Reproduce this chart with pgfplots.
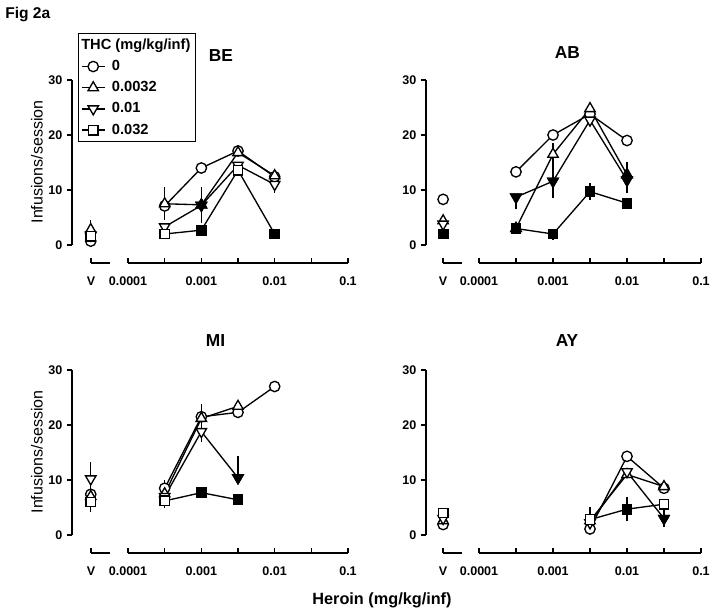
\documentclass[border=0pt]{standalone}
\usepackage{fontspec}
\setmainfont{Liberation Sans}
\usepackage{pgfplots}
\pgfplotsset{compat=1.18}

\pgfplotsset{
  noArrows/.style={axis line style={-},
    every outer x axis line/.append style={-},
    every outer y axis line/.append style={-},
    every inner x axis line/.append style={-},
    every inner y axis line/.append style={-}},
  myBase/.style={scale only axis, clip=false, anchor=south west,
    tick label style={font=\fontsize{9.4}{11}\selectfont\bfseries},
    /pgf/number format/assume math mode=true,
    axis line style={line width=1pt, black},
    major tick style={line width=1pt, black}, major tick length=3.75pt},
  myMain/.style={myBase, height=123.75pt, ymin=0, ymax=30, ytick={0,10,20,30},
    axis y line=left, axis x line=none, tick align=outside,
    unbounded coords=jump, noArrows},
  myLog/.style={myBase, height=10pt, ymin=0, ymax=1, axis x line=bottom, axis y line=none,
    tick align=inside, xmin=1e-4, xmax=0.1,
    xtick={1e-4,1e-3,1e-2,1e-1}, xticklabels={0.0001,0.001,0.01,0.1},
    minor xtick={3.162e-4,3.162e-3,3.162e-2}, minor tick length=3.75pt,
    minor tick style={line width=1pt, black},
    xticklabel style={yshift=-7pt}, noArrows},
  myV/.style={myBase, height=10pt, width=14.25pt, xmin=0, xmax=1, ymin=0, ymax=1,
    axis x line=bottom, axis y line=none, tick align=inside,
    xtick={0}, xticklabels={V}, xticklabel style={yshift=-7pt}, noArrows},
  % series: open markers on lines
  serA/.style={black, line width=1pt, mark=*, mark size=3.9pt,
    mark options={fill=white, solid, line width=1pt}},
  serB/.style={black, line width=1pt, mark=triangle*, mark size=4.5pt,
    mark options={fill=white, solid, line width=1pt}},
  serC/.style={black, line width=1pt, mark=triangle*, mark size=4.5pt,
    mark options={fill=white, solid, rotate=180, line width=1pt}},
  serD/.style={black, line width=1pt, mark=square*, mark size=3.6pt,
    mark options={fill=white, solid, line width=1pt}},
  % filled (significant) points drawn on top
  filB/.style={forget plot, only marks, mark=triangle*, mark size=4.5pt,
    mark options={fill=black, draw=black, line width=1pt}},
  filC/.style={forget plot, only marks, mark=triangle*, mark size=4.5pt,
    mark options={fill=black, draw=black, rotate=180, line width=1pt}},
  filD/.style={forget plot, only marks, mark=square*, mark size=3.6pt,
    mark options={fill=black, draw=black, line width=1pt}},
  errB/.style={forget plot, draw=none, mark=none,
    error bars/y dir=both, error bars/y explicit, error bars/error mark=none,
    error bars/error bar style={draw=black, line width=1pt}},
}

\begin{document}
\begin{tikzpicture}
\useasboundingbox (0,0) rectangle (535.5pt,-460.5pt);

% ---------------- BE ----------------
\begin{axis}[xmode=log, myMain, at={(54pt,-183.75pt)}, width=207pt, xmin=1.72e-5, xmax=0.1,
  legend style={at={(0.0217,1.285)}, anchor=north west, draw=black, line width=0.8pt,
    font=\fontsize{11}{13}\selectfont\bfseries, inner sep=2pt, row sep=2.7pt,
    column sep=3pt},
  legend cell align=left]
\addlegendimage{empty legend}\addlegendentry{\hspace*{-23pt}THC (mg/kg/inf)}
\addplot[errB] coordinates {(3.1e-5,2.8) +- (0,1.7) (3.16e-4,7.5) +- (0,3.0)
  (1e-3,7.3) +- (0,3.3) (1e-2,11.0) +- (0,1.6)};
\addplot[serA] coordinates {(3.1e-5,0.7) (5e-5,nan) (3.16e-4,7.1) (1e-3,14.0) (3.16e-3,17.1) (1e-2,12.4)};
\addlegendentry{0}
\addplot[serB] coordinates {(3.1e-5,2.8) (5e-5,nan) (3.16e-4,7.5) (1e-3,7.3) (3.16e-3,16.8) (1e-2,12.6)};
\addlegendentry{0.0032}
\addplot[serC] coordinates {(3.1e-5,1.8) (5e-5,nan) (3.16e-4,3.3) (1e-3,7.2) (3.16e-3,14.5) (1e-2,11.0)};
\addlegendentry{0.01}
\addplot[serD] coordinates {(3.1e-5,1.6) (5e-5,nan) (3.16e-4,2.0) (1e-3,2.7) (3.16e-3,13.6) (1e-2,2.0)};
\addlegendentry{0.032}
\addplot[filB] coordinates {(1e-3,7.3)};
\addplot[filC] coordinates {(1e-3,7.2)};
\addplot[filD] coordinates {(1e-3,2.7) (1e-2,2.0)};
\end{axis}
\begin{axis}[myV, at={(68.25pt,-197.25pt)}]\end{axis}
\begin{axis}[xmode=log, myLog, at={(96pt,-197.25pt)}, width=165pt]\end{axis}

% ---------------- AB ----------------
\begin{axis}[xmode=log, myMain, at={(319.5pt,-183.75pt)}, width=206.25pt, xmin=1.92e-5, xmax=0.1]
\addplot[errB] coordinates {(3.16e-4,8.7) += (0,0.5) -= (0,2.2) (1e-3,11.6) +- (0,3.0)
  (1e-3,16.5) +- (0,2.0) (3.16e-3,9.7) +- (0,1.6) (1e-3,2.0) +- (0,1.0) (1e-2,12.3) +- (0,2.8)};
\addplot[serA] coordinates {(3.27e-5,8.3) (5e-5,nan) (3.16e-4,13.3) (1e-3,20.0) (3.16e-3,23.8) (1e-2,19.0)};
\addplot[serB] coordinates {(3.27e-5,4.4) (5e-5,nan) (3.16e-4,3.0) (1e-3,16.5) (3.16e-3,24.8) (1e-2,12.8)};
\addplot[serC] coordinates {(3.27e-5,3.8) (5e-5,nan) (3.16e-4,8.7) (1e-3,11.6) (3.16e-3,22.7) (1e-2,11.8)};
\addplot[serD] coordinates {(3.27e-5,2.0) (5e-5,nan) (3.16e-4,3.0) (1e-3,2.0) (3.16e-3,9.7) (1e-2,7.6)};
\addplot[filB] coordinates {(3.16e-4,3.0) (1e-2,12.8)};
\addplot[filC] coordinates {(3.16e-4,8.7) (1e-3,11.6) (1e-2,11.8)};
\addplot[filD] coordinates {(3.27e-5,2.0) (3.16e-4,3.0) (1e-3,2.0) (3.16e-3,9.7) (1e-2,7.6)};
\end{axis}
\begin{axis}[myV, at={(332.25pt,-197.25pt)}]\end{axis}
\begin{axis}[xmode=log, myLog, at={(359.25pt,-197.25pt)}, width=166.5pt]\end{axis}

% ---------------- MI ----------------
\begin{axis}[xmode=log, myMain, at={(54pt,-401.25pt)}, width=207pt, xmin=1.72e-5, xmax=0.1]
\addplot[errB] coordinates {(3.1e-5,10.2) +- (0,3.0) (3.1e-5,6.0) +- (0,1.8)
  (3.16e-4,7.5) +- (0,2.5) (1e-3,21.5) +- (0,2.3) (1e-3,18.8) +- (0,1.8)
  (3.16e-3,10.4) += (0,4.0) -= (0,0)};
\addplot[serA] coordinates {(3.1e-5,7.4) (5e-5,nan) (3.16e-4,8.5) (1e-3,21.5) (3.16e-3,22.3) (1e-2,27.0)};
\addplot[serB] coordinates {(3.1e-5,7.0) (5e-5,nan) (3.16e-4,7.5) (1e-3,21.2) (3.16e-3,23.4)};
\addplot[serC] coordinates {(3.1e-5,10.2) (5e-5,nan) (3.16e-4,7.0) (1e-3,18.8) (3.16e-3,10.4)};
\addplot[serD] coordinates {(3.1e-5,6.0) (5e-5,nan) (3.16e-4,6.2) (1e-3,7.7) (3.16e-3,6.4)};
\addplot[filC] coordinates {(3.16e-3,10.4)};
\addplot[filD] coordinates {(1e-3,7.7) (3.16e-3,6.4)};
\end{axis}
\begin{axis}[myV, at={(68.25pt,-414.75pt)}]\end{axis}
\begin{axis}[xmode=log, myLog, at={(96pt,-414.75pt)}, width=165pt]\end{axis}

% ---------------- AY ----------------
\begin{axis}[xmode=log, myMain, at={(319.5pt,-401.25pt)}, width=206.25pt, xmin=1.92e-5, xmax=0.1]
\addplot[errB] coordinates {(3.16e-3,2.6) +- (0,2.5) (1e-2,4.7) +- (0,2.2) (3.16e-2,3.0) +- (0,1.5)};
\addplot[serA] coordinates {(3.27e-5,1.9) (5e-5,nan) (3.16e-3,1.1) (1e-2,14.3) (3.16e-2,8.5)};
\addplot[serB] coordinates {(3.27e-5,2.6) (5e-5,nan) (3.16e-3,2.6) (1e-2,11.0) (3.16e-2,8.8)};
\addplot[serC] coordinates {(3.27e-5,3.0) (5e-5,nan) (3.16e-3,2.2) (1e-2,11.5) (3.16e-2,3.0)};
\addplot[serD] coordinates {(3.27e-5,4.0) (5e-5,nan) (3.16e-3,2.8) (1e-2,4.7) (3.16e-2,5.6)};
\addplot[filC] coordinates {(3.16e-2,3.0)};
\addplot[filD] coordinates {(1e-2,4.7)};
\end{axis}
\begin{axis}[myV, at={(332.25pt,-414.75pt)}]\end{axis}
\begin{axis}[xmode=log, myLog, at={(359.25pt,-414.75pt)}, width=166.5pt]\end{axis}

% ---------------- text ----------------
\node[anchor=base west, inner sep=0, font=\fontsize{11.7}{14}\selectfont\bfseries]
  at (3.75pt,-13.9pt) {Fig 2a};
\begin{scope}[font=\fontsize{13}{15}\selectfont\bfseries]
\node at (165.75pt,-41.6pt) {BE};
\node at (425.6pt,-39.4pt) {AB};
\node at (161.6pt,-255.75pt) {MI};
\node at (425.25pt,-255.75pt) {AY};
\end{scope}
\node[rotate=90, font=\fontsize{12}{14}\selectfont] at (27.75pt,-121.5pt) {Infusions/session};
\node[rotate=90, font=\fontsize{12}{14}\selectfont] at (27.75pt,-339pt) {Infusions/session};
\node[font=\fontsize{12.2}{14}\selectfont\bfseries] at (286.5pt,-450pt) {Heroin (mg/kg/inf)};
\end{tikzpicture}
\end{document}
